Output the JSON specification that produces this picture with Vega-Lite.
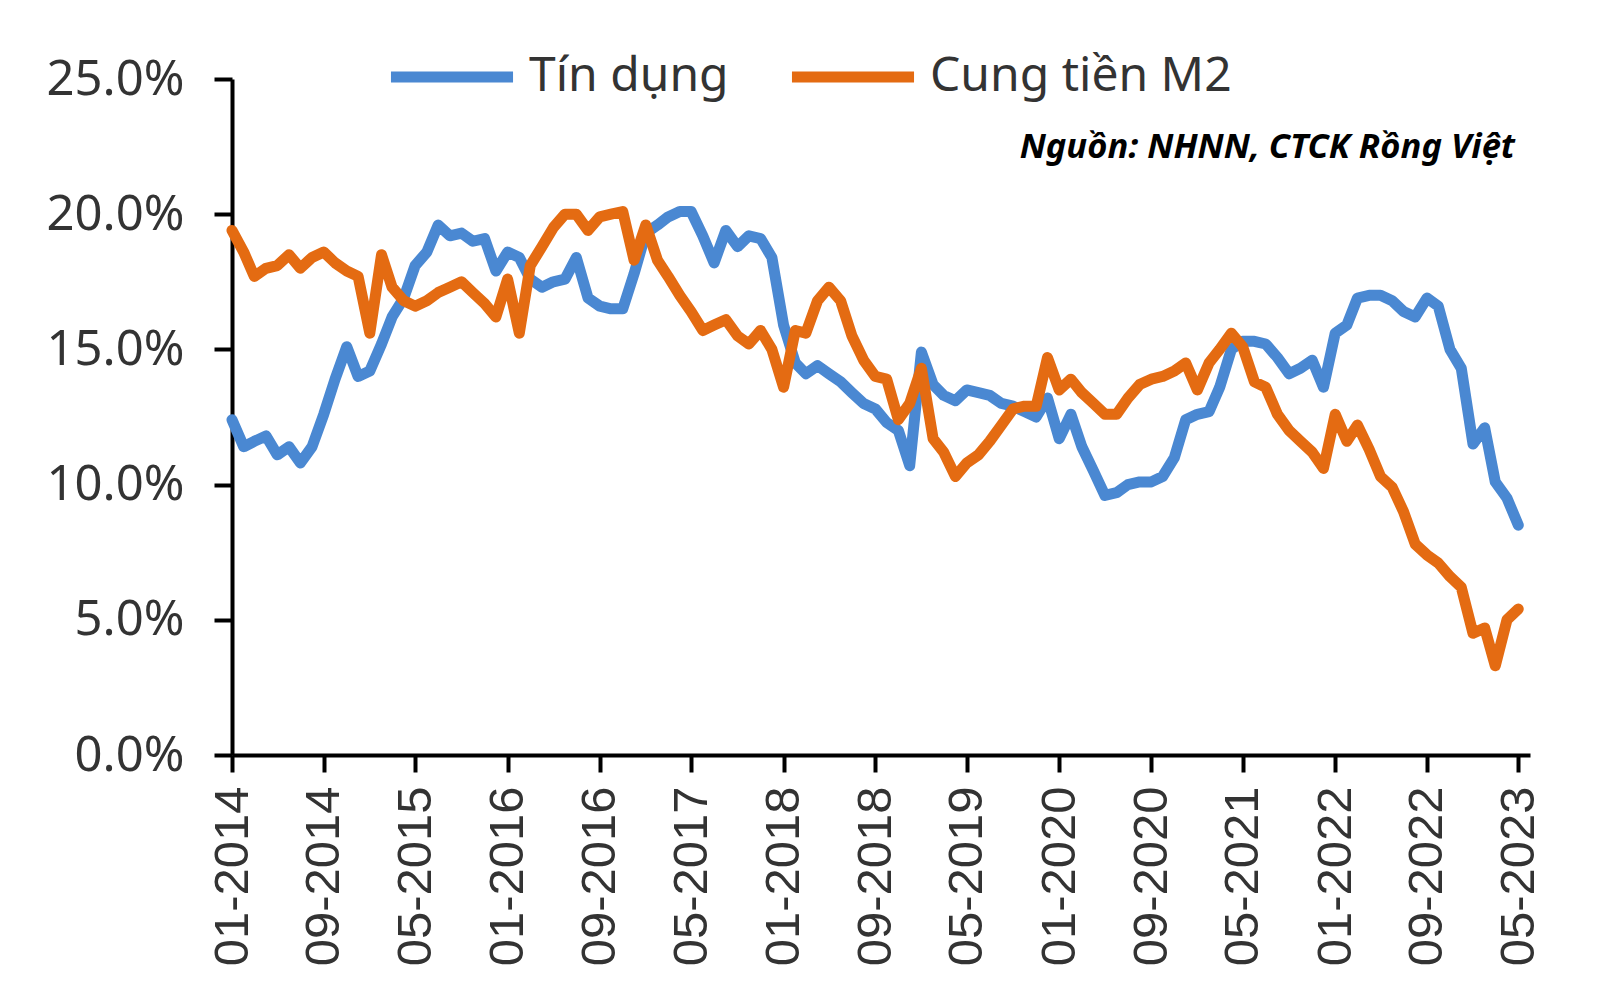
{
  "$schema": "https://vega.github.io/schema/vega-lite/v6.json",
  "width": 1298,
  "height": 676,
  "autosize": {"type": "none"},
  "padding": {"left": 232, "top": 79, "right": 70, "bottom": 248},
  "background": "white",
  "config": {"view": {"stroke": null}},
  "title": {
    "text": "Nguồn: NHNN, CTCK Rồng Việt",
    "anchor": "end",
    "orient": "top",
    "frame": "group",
    "offset": -155,
    "dx": -15,
    "font": "Noto Sans",
    "fontSize": 34.5,
    "fontWeight": "bold",
    "fontStyle": "italic",
    "color": "#000000"
  },
  "data": {
    "values": [
      {"d": "2014-01-01", "Tín dụng": 12.4, "Cung tiền M2": 19.4},
      {"d": "2014-02-01", "Tín dụng": 11.4, "Cung tiền M2": 18.6},
      {"d": "2014-03-01", "Tín dụng": 11.6, "Cung tiền M2": 17.7},
      {"d": "2014-04-01", "Tín dụng": 11.8, "Cung tiền M2": 18.0},
      {"d": "2014-05-01", "Tín dụng": 11.1, "Cung tiền M2": 18.1},
      {"d": "2014-06-01", "Tín dụng": 11.4, "Cung tiền M2": 18.5},
      {"d": "2014-07-01", "Tín dụng": 10.8, "Cung tiền M2": 18.0},
      {"d": "2014-08-01", "Tín dụng": 11.4, "Cung tiền M2": 18.4},
      {"d": "2014-09-01", "Tín dụng": 12.6, "Cung tiền M2": 18.6},
      {"d": "2014-10-01", "Tín dụng": 13.9, "Cung tiền M2": 18.2},
      {"d": "2014-11-01", "Tín dụng": 15.1, "Cung tiền M2": 17.9},
      {"d": "2014-12-01", "Tín dụng": 14.0, "Cung tiền M2": 17.7},
      {"d": "2015-01-01", "Tín dụng": 14.2, "Cung tiền M2": 15.6},
      {"d": "2015-02-01", "Tín dụng": 15.2, "Cung tiền M2": 18.5},
      {"d": "2015-03-01", "Tín dụng": 16.2, "Cung tiền M2": 17.3},
      {"d": "2015-04-01", "Tín dụng": 16.9, "Cung tiền M2": 16.8},
      {"d": "2015-05-01", "Tín dụng": 18.1, "Cung tiền M2": 16.6},
      {"d": "2015-06-01", "Tín dụng": 18.6, "Cung tiền M2": 16.8},
      {"d": "2015-07-01", "Tín dụng": 19.6, "Cung tiền M2": 17.1},
      {"d": "2015-08-01", "Tín dụng": 19.2, "Cung tiền M2": 17.3},
      {"d": "2015-09-01", "Tín dụng": 19.3, "Cung tiền M2": 17.5},
      {"d": "2015-10-01", "Tín dụng": 19.0, "Cung tiền M2": 17.1},
      {"d": "2015-11-01", "Tín dụng": 19.1, "Cung tiền M2": 16.7},
      {"d": "2015-12-01", "Tín dụng": 17.9, "Cung tiền M2": 16.2},
      {"d": "2016-01-01", "Tín dụng": 18.6, "Cung tiền M2": 17.6},
      {"d": "2016-02-01", "Tín dụng": 18.4, "Cung tiền M2": 15.6},
      {"d": "2016-03-01", "Tín dụng": 17.6, "Cung tiền M2": 18.1},
      {"d": "2016-04-01", "Tín dụng": 17.3, "Cung tiền M2": 18.8},
      {"d": "2016-05-01", "Tín dụng": 17.5, "Cung tiền M2": 19.5},
      {"d": "2016-06-01", "Tín dụng": 17.6, "Cung tiền M2": 20.0},
      {"d": "2016-07-01", "Tín dụng": 18.4, "Cung tiền M2": 20.0},
      {"d": "2016-08-01", "Tín dụng": 16.9, "Cung tiền M2": 19.4},
      {"d": "2016-09-01", "Tín dụng": 16.6, "Cung tiền M2": 19.9},
      {"d": "2016-10-01", "Tín dụng": 16.5, "Cung tiền M2": 20.0},
      {"d": "2016-11-01", "Tín dụng": 16.5, "Cung tiền M2": 20.1},
      {"d": "2016-12-01", "Tín dụng": 17.8, "Cung tiền M2": 18.3},
      {"d": "2017-01-01", "Tín dụng": 19.3, "Cung tiền M2": 19.6},
      {"d": "2017-02-01", "Tín dụng": 19.6, "Cung tiền M2": 18.3},
      {"d": "2017-03-01", "Tín dụng": 19.9, "Cung tiền M2": 17.7},
      {"d": "2017-04-01", "Tín dụng": 20.1, "Cung tiền M2": 17.0},
      {"d": "2017-05-01", "Tín dụng": 20.1, "Cung tiền M2": 16.4},
      {"d": "2017-06-01", "Tín dụng": 19.2, "Cung tiền M2": 15.7},
      {"d": "2017-07-01", "Tín dụng": 18.2, "Cung tiền M2": 15.9},
      {"d": "2017-08-01", "Tín dụng": 19.4, "Cung tiền M2": 16.1},
      {"d": "2017-09-01", "Tín dụng": 18.8, "Cung tiền M2": 15.5},
      {"d": "2017-10-01", "Tín dụng": 19.2, "Cung tiền M2": 15.2},
      {"d": "2017-11-01", "Tín dụng": 19.1, "Cung tiền M2": 15.7},
      {"d": "2017-12-01", "Tín dụng": 18.4, "Cung tiền M2": 15.0},
      {"d": "2018-01-01", "Tín dụng": 15.9, "Cung tiền M2": 13.6},
      {"d": "2018-02-01", "Tín dụng": 14.5, "Cung tiền M2": 15.7},
      {"d": "2018-03-01", "Tín dụng": 14.1, "Cung tiền M2": 15.6},
      {"d": "2018-04-01", "Tín dụng": 14.4, "Cung tiền M2": 16.8},
      {"d": "2018-05-01", "Tín dụng": 14.1, "Cung tiền M2": 17.3},
      {"d": "2018-06-01", "Tín dụng": 13.8, "Cung tiền M2": 16.8},
      {"d": "2018-07-01", "Tín dụng": 13.4, "Cung tiền M2": 15.5},
      {"d": "2018-08-01", "Tín dụng": 13.0, "Cung tiền M2": 14.6},
      {"d": "2018-09-01", "Tín dụng": 12.8, "Cung tiền M2": 14.0},
      {"d": "2018-10-01", "Tín dụng": 12.3, "Cung tiền M2": 13.9},
      {"d": "2018-11-01", "Tín dụng": 12.0, "Cung tiền M2": 12.4},
      {"d": "2018-12-01", "Tín dụng": 10.7, "Cung tiền M2": 13.0},
      {"d": "2019-01-01", "Tín dụng": 14.9, "Cung tiền M2": 14.3},
      {"d": "2019-02-01", "Tín dụng": 13.7, "Cung tiền M2": 11.7},
      {"d": "2019-03-01", "Tín dụng": 13.3, "Cung tiền M2": 11.2},
      {"d": "2019-04-01", "Tín dụng": 13.1, "Cung tiền M2": 10.3},
      {"d": "2019-05-01", "Tín dụng": 13.5, "Cung tiền M2": 10.8},
      {"d": "2019-06-01", "Tín dụng": 13.4, "Cung tiền M2": 11.1},
      {"d": "2019-07-01", "Tín dụng": 13.3, "Cung tiền M2": 11.6},
      {"d": "2019-08-01", "Tín dụng": 13.0, "Cung tiền M2": 12.2},
      {"d": "2019-09-01", "Tín dụng": 12.9, "Cung tiền M2": 12.8},
      {"d": "2019-10-01", "Tín dụng": 12.7, "Cung tiền M2": 12.9},
      {"d": "2019-11-01", "Tín dụng": 12.5, "Cung tiền M2": 12.9},
      {"d": "2019-12-01", "Tín dụng": 13.2, "Cung tiền M2": 14.7},
      {"d": "2020-01-01", "Tín dụng": 11.7, "Cung tiền M2": 13.5},
      {"d": "2020-02-01", "Tín dụng": 12.6, "Cung tiền M2": 13.9},
      {"d": "2020-03-01", "Tín dụng": 11.4, "Cung tiền M2": 13.4},
      {"d": "2020-04-01", "Tín dụng": 10.5, "Cung tiền M2": 13.0},
      {"d": "2020-05-01", "Tín dụng": 9.6, "Cung tiền M2": 12.6},
      {"d": "2020-06-01", "Tín dụng": 9.7, "Cung tiền M2": 12.6},
      {"d": "2020-07-01", "Tín dụng": 10.0, "Cung tiền M2": 13.2},
      {"d": "2020-08-01", "Tín dụng": 10.1, "Cung tiền M2": 13.7},
      {"d": "2020-09-01", "Tín dụng": 10.1, "Cung tiền M2": 13.9},
      {"d": "2020-10-01", "Tín dụng": 10.3, "Cung tiền M2": 14.0},
      {"d": "2020-11-01", "Tín dụng": 11.0, "Cung tiền M2": 14.2},
      {"d": "2020-12-01", "Tín dụng": 12.4, "Cung tiền M2": 14.5},
      {"d": "2021-01-01", "Tín dụng": 12.6, "Cung tiền M2": 13.5},
      {"d": "2021-02-01", "Tín dụng": 12.7, "Cung tiền M2": 14.5},
      {"d": "2021-03-01", "Tín dụng": 13.6, "Cung tiền M2": 15.0},
      {"d": "2021-04-01", "Tín dụng": 15.0, "Cung tiền M2": 15.6},
      {"d": "2021-05-01", "Tín dụng": 15.3, "Cung tiền M2": 15.1},
      {"d": "2021-06-01", "Tín dụng": 15.3, "Cung tiền M2": 13.8},
      {"d": "2021-07-01", "Tín dụng": 15.2, "Cung tiền M2": 13.6},
      {"d": "2021-08-01", "Tín dụng": 14.7, "Cung tiền M2": 12.6},
      {"d": "2021-09-01", "Tín dụng": 14.1, "Cung tiền M2": 12.0},
      {"d": "2021-10-01", "Tín dụng": 14.3, "Cung tiền M2": 11.6},
      {"d": "2021-11-01", "Tín dụng": 14.6, "Cung tiền M2": 11.2},
      {"d": "2021-12-01", "Tín dụng": 13.6, "Cung tiền M2": 10.6},
      {"d": "2022-01-01", "Tín dụng": 15.6, "Cung tiền M2": 12.6},
      {"d": "2022-02-01", "Tín dụng": 15.9, "Cung tiền M2": 11.6},
      {"d": "2022-03-01", "Tín dụng": 16.9, "Cung tiền M2": 12.2},
      {"d": "2022-04-01", "Tín dụng": 17.0, "Cung tiền M2": 11.3},
      {"d": "2022-05-01", "Tín dụng": 17.0, "Cung tiền M2": 10.3},
      {"d": "2022-06-01", "Tín dụng": 16.8, "Cung tiền M2": 9.9},
      {"d": "2022-07-01", "Tín dụng": 16.4, "Cung tiền M2": 9.0},
      {"d": "2022-08-01", "Tín dụng": 16.2, "Cung tiền M2": 7.8},
      {"d": "2022-09-01", "Tín dụng": 16.9, "Cung tiền M2": 7.4},
      {"d": "2022-10-01", "Tín dụng": 16.6, "Cung tiền M2": 7.1},
      {"d": "2022-11-01", "Tín dụng": 15.0, "Cung tiền M2": 6.6},
      {"d": "2022-12-01", "Tín dụng": 14.3, "Cung tiền M2": 6.2},
      {"d": "2023-01-01", "Tín dụng": 11.5, "Cung tiền M2": 4.5},
      {"d": "2023-02-01", "Tín dụng": 12.1, "Cung tiền M2": 4.7},
      {"d": "2023-03-01", "Tín dụng": 10.1, "Cung tiền M2": 3.3},
      {"d": "2023-04-01", "Tín dụng": 9.5, "Cung tiền M2": 5.0},
      {"d": "2023-05-01", "Tín dụng": 8.5, "Cung tiền M2": 5.4}
    ]
  },
  "transform": [
    {"fold": ["Tín dụng", "Cung tiền M2"], "as": ["series", "value"]}
  ],
  "mark": {"type": "line", "strokeWidth": 11, "strokeCap": "round", "strokeJoin": "round"},
  "encoding": {
    "x": {
      "field": "d",
      "type": "temporal",
      "scale": {
        "type": "utc",
        "domain": [
          {"year": 2014, "month": 1, "date": 1, "utc": true},
          {"year": 2023, "month": 6, "date": 1, "utc": true}
        ]
      },
      "axis": {
        "title": null,
        "grid": false,
        "format": "%m-%Y",
        "values": [
          {"year": 2014, "month": 1, "date": 1, "utc": true},
          {"year": 2014, "month": 9, "date": 1, "utc": true},
          {"year": 2015, "month": 5, "date": 1, "utc": true},
          {"year": 2016, "month": 1, "date": 1, "utc": true},
          {"year": 2016, "month": 9, "date": 1, "utc": true},
          {"year": 2017, "month": 5, "date": 1, "utc": true},
          {"year": 2018, "month": 1, "date": 1, "utc": true},
          {"year": 2018, "month": 9, "date": 1, "utc": true},
          {"year": 2019, "month": 5, "date": 1, "utc": true},
          {"year": 2020, "month": 1, "date": 1, "utc": true},
          {"year": 2020, "month": 9, "date": 1, "utc": true},
          {"year": 2021, "month": 5, "date": 1, "utc": true},
          {"year": 2022, "month": 1, "date": 1, "utc": true},
          {"year": 2022, "month": 9, "date": 1, "utc": true},
          {"year": 2023, "month": 5, "date": 1, "utc": true}
        ],
        "labelAngle": -90,
        "labelAlign": "right",
        "labelBaseline": "middle",
        "labelFont": "Liberation Sans",
        "labelFontSize": 49,
        "labelColor": "#333333",
        "labelPadding": 14,
        "labelOverlap": false,
        "labelFlush": false,
        "domainColor": "#000000",
        "domainWidth": 4,
        "tickColor": "#000000",
        "tickWidth": 4,
        "tickSize": 17
      }
    },
    "y": {
      "field": "value",
      "type": "quantitative",
      "scale": {"domain": [0, 25], "nice": false, "zero": true},
      "axis": {
        "title": null,
        "grid": false,
        "values": [0, 5, 10, 15, 20, 25],
        "labelExpr": "format(datum.value, '.1f') + '%'",
        "labelFont": "Noto Sans",
        "labelFontSize": 49,
        "labelColor": "#333333",
        "labelPadding": 30,
        "labelFlush": false,
        "labelOverlap": false,
        "domainColor": "#000000",
        "domainWidth": 4,
        "tickColor": "#000000",
        "tickWidth": 4,
        "tickSize": 18
      }
    },
    "color": {
      "field": "series",
      "type": "nominal",
      "scale": {"domain": ["Tín dụng", "Cung tiền M2"], "range": ["#4a88d2", "#e46b12"]},
      "legend": {
        "title": null,
        "orient": "none",
        "direction": "horizontal",
        "legendX": 153,
        "legendY": -69,
        "padding": 0,
        "symbolType": "stroke",
        "symbolSize": 14900,
        "symbolStrokeWidth": 11,
        "labelFont": "Noto Sans",
        "labelFontSize": 48,
        "labelColor": "#333333",
        "labelOffset": 10,
        "columnPadding": 40,
        "labelLimit": 500
      }
    }
  }
}
